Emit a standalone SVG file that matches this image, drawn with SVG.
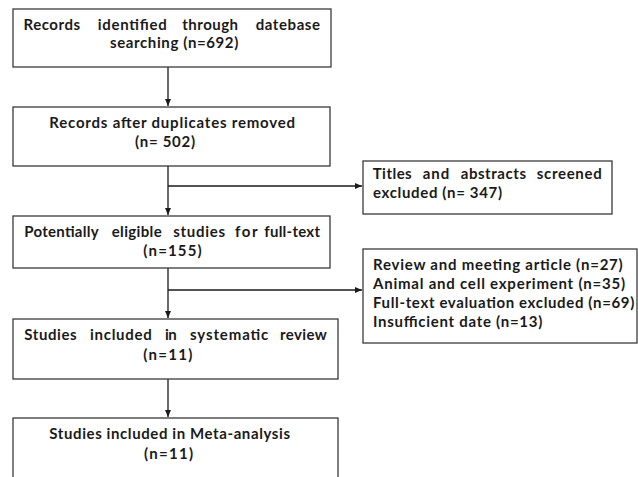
<svg xmlns="http://www.w3.org/2000/svg" width="638" height="477" viewBox="0 0 638 477">
<style>
.box{fill:#fff;stroke:#3a3a3a;stroke-width:1.3}
.t{font-family:Lato,"Liberation Sans",sans-serif;font-weight:bold;font-size:15px;fill:#1a1a1a}
.ln{stroke:#1a1a1a;stroke-width:1.3;fill:none}
</style>
<defs>
<marker id="ah" markerWidth="8" markerHeight="8" refX="7" refY="4" orient="auto" markerUnits="userSpaceOnUse">
<path d="M0,1 L7,4 L0,7 Z" fill="#1a1a1a"/>
</marker>
</defs>
<rect width="638" height="477" fill="#fff"/>
<g id="connectors">
<line class="ln" x1="168" y1="67" x2="168" y2="106" marker-end="url(#ah)"/>
<line class="ln" x1="168" y1="166" x2="168" y2="215" marker-end="url(#ah)"/>
<line class="ln" x1="168" y1="186" x2="362" y2="186" marker-end="url(#ah)"/>
<line class="ln" x1="168" y1="268" x2="168" y2="318" marker-end="url(#ah)"/>
<line class="ln" x1="168" y1="290" x2="362" y2="290" marker-end="url(#ah)"/>
<line class="ln" x1="168" y1="379" x2="168" y2="417" marker-end="url(#ah)"/>
</g>
<g id="n1">
<rect class="box" x="13" y="9" width="318" height="58"/>
<text class="t" y="29.5"><tspan x="23.5" textLength="56.5">Records</tspan> <tspan x="97.7" textLength="69">identified</tspan> <tspan x="182.3" textLength="55.7">through</tspan> <tspan x="255.7" textLength="64.3">datebase</tspan></text>
<text class="t" x="110" y="48" textLength="128.3">searching (n=692)</text>
</g>
<g id="n2">
<rect class="box" x="13" y="107" width="317" height="59"/>
<text class="t" x="49.3" y="128" textLength="245.7">Records after duplicates removed</text>
<text class="t" x="135" y="147" textLength="60">(n= 502)</text>
</g>
<g id="n3">
<rect class="box" x="13" y="216" width="317" height="52"/>
<text class="t" y="237"><tspan x="24.3" textLength="74">Potentially</tspan> <tspan x="111.7" textLength="50">eligible</tspan> <tspan x="173.3" textLength="51.7">studies</tspan> <tspan x="235" textLength="22.3">for</tspan> <tspan x="264.3" textLength="55.7">full-text</tspan></text>
<text class="t" x="143.3" y="255.5" textLength="58.4">(n=155)</text>
</g>
<g id="n4">
<rect class="box" x="13" y="319" width="325" height="60"/>
<text class="t" y="340"><tspan x="24.3" textLength="52.4">Studies</tspan> <tspan x="90" textLength="61.7">included</tspan> <tspan x="165" textLength="11.7">in</tspan> <tspan x="190" textLength="78.3">systematic</tspan> <tspan x="280" textLength="46.7">review</tspan></text>
<text class="t" x="143.3" y="360" textLength="49">(n=11)</text>
</g>
<g id="n5">
<rect class="box" x="13" y="418" width="325" height="70"/>
<text class="t" x="49.3" y="439" textLength="240.7">Studies included in Meta-analysis</text>
<text class="t" x="144" y="459" textLength="49">(n=11)</text>
</g>
<g id="n6">
<rect class="box" x="363" y="161" width="249" height="53"/>
<text class="t" y="179"><tspan x="372.7" textLength="39">Titles</tspan> <tspan x="422.7" textLength="26.6">and</tspan> <tspan x="460.7" textLength="65.3">abstracts</tspan> <tspan x="536.7" textLength="65">screened</tspan></text>
<text class="t" x="373" y="198" textLength="129">excluded (n= 347)</text>
</g>
<g id="n7">
<rect class="box" x="363" y="249" width="274" height="94"/>
<text class="t" x="373" y="270" textLength="249.7">Review and meeting article (n=27)</text>
<text class="t" x="373" y="289" textLength="252">Animal and cell experiment (n=35)</text>
<text class="t" x="373" y="308" textLength="261.3">Full-text evaluation excluded (n=69)</text>
<text class="t" x="373" y="327" textLength="169.3">Insufficient date (n=13)</text>
</g>
</svg>
